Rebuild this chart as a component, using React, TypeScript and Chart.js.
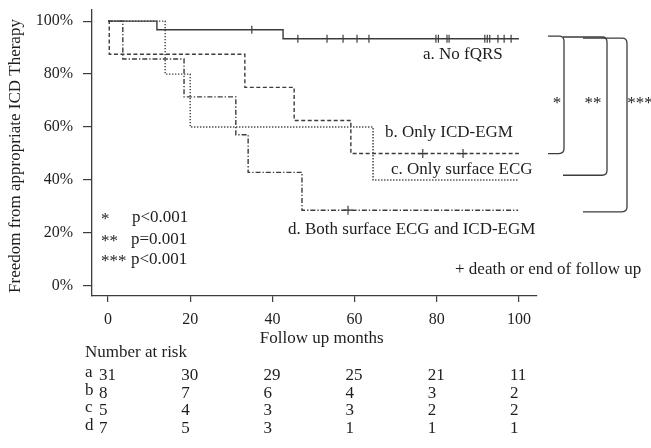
import React, { useEffect, useRef } from 'react';
import { Chart, registerables } from 'chart.js';

Chart.register(...registerables);

// ---- data ----
const xTicks = [0, 20, 40, 60, 80, 100];
const yTicks = [0, 20, 40, 60, 80, 100];

const timesA = [0, 11.9, 42.6, 100];
const survA = [100, 96.77, 93.33, 93.33];
const censorA = [35.0, 46.2, 53.3, 57.2, 60.6, 63.5, 79.8, 80.4, 82.5, 83.0, 91.7, 92.3, 92.9, 94.9, 96.4, 98.1];

const timesB = [0, 0.3, 33.3, 45.3, 59.1, 100];
const survB = [100, 87.5, 75, 62.5, 50, 50];
const censorB = [76.6, 86.4];

const timesC = [0, 13.9, 20.0, 64.5, 100];
const survC = [100, 80, 60, 40, 40];

const timesD = [0, 3.6, 18.5, 31.1, 34.1, 47.2, 99.8];
const survD = [100, 85.7, 71.4, 57.1, 42.9, 28.6, 28.6];
const censorD = [58.4];

const groupLabels = ['a. No fQRS', 'b. Only ICD-EGM', 'c. Only surface ECG', 'd. Both surface ECG and ICD-EGM'];
const riskGroups = ['a', 'b', 'c', 'd'];
const riskTimes = [0, 20, 40, 60, 80, 100];
const riskA = [31, 30, 29, 25, 21, 11];
const riskB = [8, 7, 6, 4, 3, 2];
const riskC = [5, 4, 3, 3, 2, 2];
const riskD = [7, 5, 3, 1, 1, 1];
const pStars = ['*', '**', '***'];
const pValues = ['p<0.001', 'p=0.001', 'p<0.001'];

const FONT = '"Liberation Serif", "Times New Roman", serif';
const LINE = '#3c3c3c';
const TEXT = '#1e1e1e';

const toPts = (t: number[], s: number[]) => t.map((v, i) => ({ x: v, y: s[i] }));
const stepAt = (t: number[], s: number[], x: number) => {
  let v = s[0];
  for (let i = 0; i < t.length; i++) if (t[i] <= x) v = s[i];
  return v;
};
const censorPts = (c: number[], t: number[], s: number[]) => c.map((x) => ({ x, y: stepAt(t, s, x) }));

const overlay = {
  id: 'overlay',
  afterDraw(chart: any) {
    const ctx = chart.ctx as CanvasRenderingContext2D;
    const xs = chart.scales.x;
    const ys = chart.scales.y;
    const X = (v: number) => xs.getPixelForValue(v);
    const Y = (v: number) => ys.getPixelForValue(v);
    ctx.save();
    ctx.fillStyle = TEXT;
    ctx.textBaseline = 'middle';

    // y axis title
    ctx.save();
    ctx.translate(16, 156);
    ctx.rotate(-Math.PI / 2);
    ctx.font = `17px ${FONT}`;
    ctx.textAlign = 'center';
    ctx.fillText('Freedom from appropriate ICD Therapy', 0, 0);
    ctx.restore();

    // x axis title
    ctx.font = `17px ${FONT}`;
    ctx.textAlign = 'center';
    ctx.fillText('Follow up months', X(52), 339);

    // group labels
    ctx.textAlign = 'left';
    ctx.fillText(groupLabels[0], 423, 55);
    ctx.fillText(groupLabels[1], 385, 133);
    ctx.fillText(groupLabels[2], 391, 170);
    ctx.fillText(groupLabels[3], 288, 230);

    // p values
    const pY = [218, 240, 260];
    const pX = [132, 131, 131];
    pStars.forEach((s, i) => {
      ctx.fillText(s, 101, pY[i] + 2);
      ctx.fillText(pValues[i], pX[i], pY[i]);
    });

    // censor legend
    ctx.fillText('+ death or end of follow up', 455, 270);

    // brackets
    ctx.strokeStyle = LINE;
    ctx.lineWidth = 1.3;
    const bracket = (x1: number, x2: number, yt: number, yb: number) => {
      const r = 5;
      ctx.beginPath();
      ctx.moveTo(x1, yt);
      ctx.lineTo(x2 - r, yt);
      ctx.quadraticCurveTo(x2, yt, x2, yt + r);
      ctx.lineTo(x2, yb - r);
      ctx.quadraticCurveTo(x2, yb, x2 - r, yb);
      ctx.lineTo(x1, yb);
      ctx.stroke();
    };
    bracket(548, 564, Y(94.3), Y(50));
    bracket(563, 607, Y(94.0), Y(41.8));
    bracket(583, 627, Y(93.6), Y(28));
    ctx.textAlign = 'center';
    ctx.fillText('*', 557, 104);
    ctx.fillText('**', 593, 104);
    ctx.fillText('***', 640, 104);

    // number at risk table
    ctx.textAlign = 'left';
    ctx.fillText('Number at risk', 85, 353);
    const rows = [riskA, riskB, riskC, riskD];
    const rowY = [376, 393.5, 411, 429];
    rows.forEach((row, r) => {
      ctx.fillText(riskGroups[r], 85, rowY[r] - 3);
      row.forEach((n, j) => {
        ctx.fillText(String(n), X(riskTimes[j]) - 9, rowY[r]);
      });
    });
    ctx.restore();
  },
};

export default function App() {
  const ref = useRef<HTMLCanvasElement>(null);
  useEffect(() => {
    if (!ref.current) return;
    const base = {
      borderColor: LINE,
      borderWidth: 1.4,
      pointRadius: 0,
      stepped: 'before' as const,
      fill: false,
    };
    const cens = (style: any, rot: number, r: number) => ({
      showLine: false,
      pointStyle: style,
      rotation: rot,
      pointRadius: r,
      pointBorderColor: LINE,
      pointBorderWidth: 1.2,
      pointBackgroundColor: LINE,
      borderColor: LINE,
    });
    const chart = new Chart(ref.current, {
      type: 'line',
      data: {
        datasets: [
          { ...base, label: 'a', data: toPts(timesA, survA) },
          { ...base, label: 'b', data: toPts(timesB, survB), borderDash: [4, 2.5] },
          { ...base, label: 'c', data: toPts(timesC, survC), borderDash: [1.3, 1.7] },
          { ...base, label: 'd', data: toPts(timesD, survD), borderDash: [5, 2, 1.3, 2] },
          { ...cens('line', 90, 4), label: 'ca', data: censorPts(censorA, timesA, survA) } as any,
          { ...cens('cross', 0, 4.5), label: 'cb', data: censorPts(censorB, timesB, survB) } as any,
          { ...cens('cross', 0, 4.5), label: 'cd', data: censorPts(censorD, timesD, survD) } as any,
        ],
      },
      options: {
        responsive: false,
        animation: false,
        events: [],
        layout: { padding: { left: 0, right: 114, top: 10, bottom: 0 } },
        plugins: { legend: { display: false }, tooltip: { enabled: false }, title: { display: false } },
        scales: {
          x: {
            type: 'linear',
            min: -3.9,
            max: 104.4,
            afterFit: (s: any) => { s.height = 152; s.paddingLeft = 0; s.paddingRight = 0; },
            afterBuildTicks: (s: any) => { s.ticks = xTicks.map((v) => ({ value: v })); },
            grid: { display: true, drawOnChartArea: false, drawTicks: true, tickLength: 6, color: LINE, lineWidth: 1.2 },
            border: { display: true, color: LINE, width: 1.3 },
            ticks: { color: TEXT, font: { family: FONT, size: 16 }, padding: 8, maxRotation: 0 },
          },
          y: {
            type: 'linear',
            min: -3.8,
            max: 104.2,
            afterFit: (s: any) => { s.width = 92; s.paddingTop = 0; s.paddingBottom = 0; },
            afterBuildTicks: (s: any) => { s.ticks = yTicks.map((v) => ({ value: v })); },
            grid: { display: true, drawOnChartArea: false, drawTicks: true, tickLength: 9, color: LINE, lineWidth: 1.2 },
            border: { display: true, color: LINE, width: 1.3 },
            ticks: { color: TEXT, font: { family: FONT, size: 16 }, padding: 10, callback: (v: any) => `${v}%` },
          },
        },
      },
      plugins: [overlay],
    });
    return () => chart.destroy();
  }, []);
  return (
    <div style={{ position: 'absolute', left: 0, top: 0, width: 651, height: 448, background: '#fff' }}>
      <canvas ref={ref} width={651} height={448} style={{ width: 651, height: 448 }} />
    </div>
  );
}
